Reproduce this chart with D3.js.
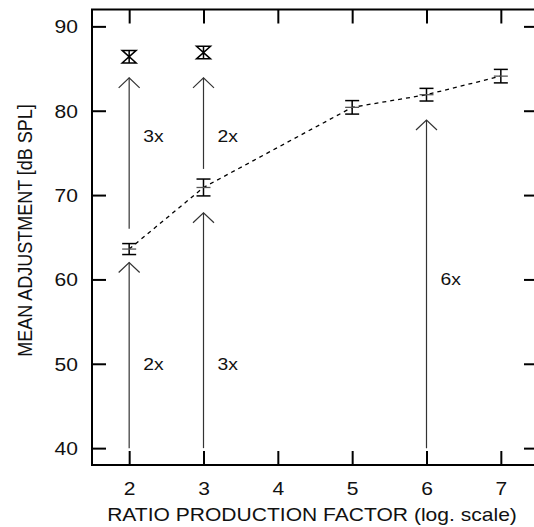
<!DOCTYPE html>
<html>
<head>
<meta charset="utf-8">
<script src="https://cdn.jsdelivr.net/npm/d3@7"></script>
<style>
  body { margin: 0; background: #fff; }
  svg { display: block; font-family: "Liberation Sans", Arial, sans-serif; }
</style>
</head>
<body>
<div id="chart"></div>
<script>
// data
var xTicks = [2, 3, 4, 5, 6, 7];
var yTicks = [40, 50, 60, 70, 80, 90];

// connected means (dashed line)
var lineX = [2, 3, 5, 6, 7];
var lineY = [63.6, 70.9, 80.4, 81.9, 84.1];
var lineErr = [0.65, 1.0, 0.8, 0.75, 0.8];

// the two upper points (hourglass markers)
var topX = [2, 3];
var topY = [86.4, 86.9];
var topErr = [0.75, 0.75];

// arrows: x, start value, tip value
var arrowX = [2, 2, 3, 3, 6];
var arrowFrom = [40, 66.0, 40, 73.1, 40];
var arrowTo = [62.0, 83.9, 67.9, 83.9, 78.9];

// arrow labels
var labelX = [2, 2, 3, 3, 6];
var labelY = [50, 77, 50, 77, 60];
var labelText = ["2x", "3x", "3x", "2x", "6x"];

var xTitle = "RATIO PRODUCTION FACTOR (log. scale)";
var yTitle = "MEAN ADJUSTMENT [dB SPL]";

// the picture is stretched sideways a bit, so text is too
var stretch = 1.17;

var W = 534, H = 527;
var margin = {top: 9.5, right: -4, bottom: 62, left: 92},
    width = W - margin.left - margin.right,
    height = H - margin.top - margin.bottom;

var svg = d3.select("#chart")
  .append("svg")
    .attr("width", W)
    .attr("height", H)
  .append("g")
    .attr("transform", "translate(" + margin.left + "," + margin.top + ")");

var x = d3.scaleLinear().domain([1.5, 7.5]).range([0, width]);
var y = d3.scaleLinear().domain([38, 92]).range([height, 0]);

// axes, ticks pointing inward
var gLeft = svg.append("g")
  .call(d3.axisLeft(y).tickValues(yTicks).tickSize(-14).tickPadding(0).tickFormat(d3.format("d")));
gLeft.selectAll("text")
  .attr("x", 0).attr("dy", "0.36em")
  .attr("transform", "translate(-14,0) scale(" + stretch + ",1)");

svg.append("g")
  .attr("transform", "translate(" + width + ",0)")
  .call(d3.axisRight(y).tickValues(yTicks).tickSize(-14).tickFormat(""));

var gBottom = svg.append("g")
  .attr("transform", "translate(0," + height + ")")
  .call(d3.axisBottom(x).tickValues(xTicks).tickSize(-14).tickPadding(0).tickFormat(d3.format("d")));
gBottom.selectAll("text")
  .attr("y", 0).attr("dy", 0)
  .attr("transform", "translate(0,30) scale(" + stretch + ",1)");

svg.append("g")
  .call(d3.axisTop(x).tickValues(xTicks).tickSize(-14).tickFormat(""));

svg.selectAll(".domain").remove();
svg.selectAll(".tick line").attr("stroke", "#000").attr("stroke-width", 2);
svg.selectAll(".tick text")
  .attr("font-size", 18)
  .attr("font-family", "Liberation Sans, Arial, sans-serif")
  .attr("fill", "#111");

// frame
svg.append("rect")
  .attr("x", 0).attr("y", 0)
  .attr("width", width).attr("height", height)
  .attr("fill", "none")
  .attr("stroke", "#000")
  .attr("stroke-width", 2);

// axis titles
svg.append("text")
  .attr("transform", "translate(" + (width / 2 - 3) + "," + (height + 56) + ") scale(" + stretch + ",1)")
  .attr("text-anchor", "middle")
  .attr("font-size", 18)
  .attr("fill", "#111")
  .text(xTitle);

svg.append("text")
  .attr("transform", "translate(" + (32 - margin.left) + "," + (y(65.8)) + ") scale(" + stretch + ",1) rotate(-90)")
  .attr("text-anchor", "middle")
  .attr("font-size", 18)
  .attr("fill", "#111")
  .text(yTitle);

// arrows
var arrows = arrowX.map(function(d, i) { return {x: d, from: arrowFrom[i], to: arrowTo[i]}; });
var ga = svg.append("g").attr("fill", "none").attr("stroke", "#333").attr("stroke-width", 1.2);
ga.selectAll("line.shaft")
  .data(arrows)
  .enter().append("line")
    .attr("class", "shaft")
    .attr("x1", function(d) { return x(d.x); })
    .attr("x2", function(d) { return x(d.x); })
    .attr("y1", function(d) { return y(d.from); })
    .attr("y2", function(d) { return y(d.to); });
ga.selectAll("path.head")
  .data(arrows)
  .enter().append("path")
    .attr("class", "head")
    .attr("d", function(d) {
      var cx = x(d.x), cy = y(d.to);
      return "M" + (cx - 10.5) + "," + (cy + 10) + "L" + cx + "," + cy + "L" + (cx + 10.5) + "," + (cy + 10);
    });

// arrow labels
svg.selectAll("text.lab")
  .data(labelText)
  .enter().append("text")
    .attr("class", "lab")
    .attr("transform", function(d, i) { return "translate(" + (x(labelX[i]) + 14) + "," + y(labelY[i]) + ") scale(" + stretch + ",1)"; })
    .attr("dy", "0.36em")
    .attr("font-size", 16.5)
    .attr("fill", "#111")
    .text(function(d) { return d; });

// dashed line through the means
var pts = lineX.map(function(d, i) { return {x: d, y: lineY[i], e: lineErr[i]}; });
svg.append("path")
  .datum(pts)
  .attr("fill", "none")
  .attr("stroke", "#000")
  .attr("stroke-width", 1.3)
  .attr("stroke-dasharray", "4,4")
  .attr("d", d3.line().x(function(d) { return x(d.x); }).y(function(d) { return y(d.y); }));

// error bars
var cap = 7;
var ge = svg.append("g").selectAll("g")
  .data(pts)
  .enter().append("g");
ge.append("line")
  .attr("x1", function(d) { return x(d.x); }).attr("x2", function(d) { return x(d.x); })
  .attr("y1", function(d) { return y(d.y - d.e); }).attr("y2", function(d) { return y(d.y + d.e); })
  .attr("stroke", "#000").attr("stroke-width", 1.5);
ge.append("line")
  .attr("x1", function(d) { return x(d.x) - cap; }).attr("x2", function(d) { return x(d.x) + cap; })
  .attr("y1", function(d) { return y(d.y + d.e); }).attr("y2", function(d) { return y(d.y + d.e); })
  .attr("stroke", "#000").attr("stroke-width", 1.5);
ge.append("line")
  .attr("x1", function(d) { return x(d.x) - cap; }).attr("x2", function(d) { return x(d.x) + cap; })
  .attr("y1", function(d) { return y(d.y - d.e); }).attr("y2", function(d) { return y(d.y - d.e); })
  .attr("stroke", "#000").attr("stroke-width", 1.5);
ge.append("line")
  .attr("x1", function(d) { return x(d.x) - cap; }).attr("x2", function(d) { return x(d.x) + cap; })
  .attr("y1", function(d) { return y(d.y); }).attr("y2", function(d) { return y(d.y); })
  .attr("stroke", "#555").attr("stroke-width", 1.3);

// hourglass markers
var tops = topX.map(function(d, i) { return {x: d, y: topY[i], e: topErr[i]}; });
svg.append("g").selectAll("path")
  .data(tops)
  .enter().append("path")
    .attr("fill", "none")
    .attr("stroke", "#000")
    .attr("stroke-width", 1.5)
    .attr("d", function(d) {
      var cx = x(d.x), t = y(d.y + d.e), b = y(d.y - d.e);
      return "M" + (cx - cap) + "," + t + "L" + (cx + cap) + "," + t +
             "L" + (cx - cap) + "," + b + "L" + (cx + cap) + "," + b + "Z" +
             "M" + cx + "," + t + "L" + cx + "," + b;
    });
</script>
</body>
</html>
